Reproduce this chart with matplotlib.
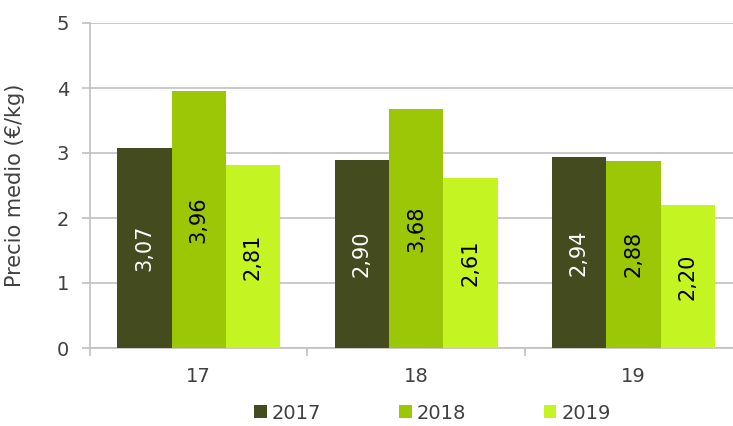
import matplotlib.pyplot as plt
import numpy as np

categories = ["17", "18", "19"]
series = ["2017", "2018", "2019"]
v2017 = [3.07, 2.90, 2.94]
v2018 = [3.96, 3.68, 2.88]
v2019 = [2.81, 2.61, 2.20]

colors = ["#444b1f", "#9bc707", "#c4f523"]
text_colors = ["white", "black", "black"]

plt.rcParams['font.family'] = ['DejaVu Sans']

fig = plt.figure(figsize=(7.33, 4.26), dpi=100)
ax = fig.add_axes([90 / 733, 78 / 426, 652 / 733, 325 / 426])

x = np.arange(len(categories))
w = 0.25
for i, (name, vals) in enumerate(zip(series, [v2017, v2018, v2019])):
    pos = x + (i - 1) * w
    bars = ax.bar(pos, vals, w, color=colors[i], label=name, zorder=3)
    for b, v in zip(bars, vals):
        ax.text(b.get_x() + b.get_width() / 2, v / 2, f"{v:.2f}".replace(".", ","),
                rotation=90, ha="center", va="center", color=text_colors[i],
                fontsize=15, zorder=4)

ax.set_xlim(-0.5, 2.5)
ax.set_ylim(0, 5)
ax.set_yticks([0, 1, 2, 3, 4, 5])
ax.yaxis.grid(True, color="#c0c0c0", linewidth=1.2, zorder=0)
ax.tick_params(axis="y", labelsize=14, colors="#c0c0c0", labelcolor="#404040",
               length=6, width=1.2, pad=9)

ax.set_xticks(x)
ax.set_xticklabels(categories)
ax.set_xticks([-0.5, 0.5, 1.5, 2.5], minor=True)
ax.tick_params(axis="x", which="major", length=0, labelsize=14,
               labelcolor="#404040", pad=14)
ax.tick_params(axis="x", which="minor", length=6, width=1.2, colors="#c0c0c0")

for s in ["top", "right"]:
    ax.spines[s].set_visible(False)
for s in ["left", "bottom"]:
    ax.spines[s].set_color("#c0c0c0")
    ax.spines[s].set_linewidth(1.2)

ax.set_ylabel("Precio medio (€/kg)", fontsize=15, color="#404040")
ax.yaxis.set_label_coords(-0.1, 0.5)

leg = fig.legend(loc="center", bbox_to_anchor=(0.59, 0.03), ncol=3, frameon=False,
                 fontsize=14, handlelength=0.65, handleheight=0.65,
                 handletextpad=0.25, columnspacing=4.0)
for t in leg.get_texts():
    t.set_color("#404040")

fig.savefig("out.png", dpi=100)
